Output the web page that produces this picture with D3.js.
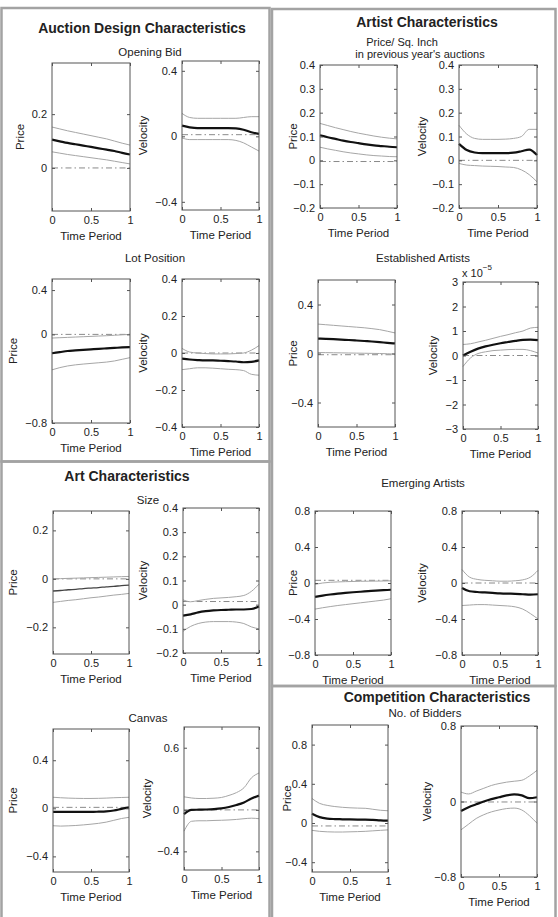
<!DOCTYPE html>
<html>
<head>
<meta charset="utf-8">
<script src="https://cdn.jsdelivr.net/npm/d3@7"></script>
<style>
  body { margin: 0; background: #fff; }
  svg { display: block; }
  text { font-family: "Liberation Sans", Arial, Helvetica, sans-serif; fill: #222; }
</style>
</head>
<body>
<svg id="chart" width="558" height="917"></svg>
<script>
// time grid shared by every curve
const periods = [0, 0.1, 0.2, 0.3, 0.4, 0.5, 0.6, 0.7, 0.8, 0.9, 1];
const timeTicks = [0, 0.5, 1];

// Auction design: opening bid
const bidPriceMean  = [0.105, 0.099, 0.093, 0.088, 0.083, 0.078, 0.073, 0.068, 0.063, 0.056, 0.05];
const bidPriceUpper = [0.152, 0.145, 0.138, 0.132, 0.126, 0.12, 0.114, 0.108, 0.1, 0.092, 0.085];
const bidPriceLower = [0.06, 0.055, 0.05, 0.046, 0.042, 0.038, 0.034, 0.03, 0.025, 0.02, 0.015];
const bidVelMean  = [0.065, 0.055, 0.05, 0.05, 0.05, 0.05, 0.05, 0.048, 0.04, 0.025, 0.015];
const bidVelUpper = [0.14, 0.115, 0.11, 0.11, 0.11, 0.11, 0.11, 0.11, 0.115, 0.12, 0.12];
const bidVelLower = [-0.01, -0.02, -0.02, -0.02, -0.02, -0.02, -0.02, -0.025, -0.04, -0.065, -0.09];

// Auction design: lot position
const lotPriceMean  = [-0.17, -0.16, -0.15, -0.145, -0.14, -0.135, -0.13, -0.126, -0.122, -0.118, -0.115];
const lotPriceUpper = [-0.033, -0.03, -0.027, -0.024, -0.021, -0.018, -0.015, -0.012, -0.008, -0.004, 0];
const lotPriceLower = [-0.32, -0.3, -0.285, -0.275, -0.268, -0.262, -0.256, -0.25, -0.24, -0.225, -0.21];
const lotVelMean  = [-0.03, -0.035, -0.038, -0.04, -0.04, -0.042, -0.044, -0.046, -0.05, -0.048, -0.04];
const lotVelUpper = [0.025, 0.005, 0, -0.003, -0.005, -0.005, -0.005, -0.003, 0, 0.015, 0.04];
const lotVelLower = [-0.09, -0.085, -0.08, -0.08, -0.082, -0.085, -0.088, -0.09, -0.095, -0.115, -0.12];

// Art: size
const sizePriceMean  = [-0.05, -0.048, -0.045, -0.043, -0.04, -0.038, -0.036, -0.033, -0.031, -0.028, -0.026];
const sizePriceUpper = [0, 0.001, 0.002, 0.003, 0.004, 0.005, 0.006, 0.007, 0.008, 0.009, 0.01];
const sizePriceLower = [-0.097, -0.093, -0.089, -0.086, -0.082, -0.078, -0.075, -0.071, -0.067, -0.064, -0.06];
const sizeVelMean  = [-0.045, -0.04, -0.032, -0.027, -0.024, -0.022, -0.021, -0.02, -0.02, -0.018, -0.008];
const sizeVelUpper = [0.02, 0.012, 0.017, 0.022, 0.026, 0.028, 0.03, 0.033, 0.038, 0.055, 0.085];
const sizeVelLower = [-0.11, -0.09, -0.078, -0.072, -0.07, -0.07, -0.07, -0.072, -0.078, -0.092, -0.1];

// Art: canvas
const canvasPriceMean  = [-0.03, -0.03, -0.03, -0.03, -0.03, -0.03, -0.028, -0.025, -0.018, -0.005, 0.008];
const canvasPriceUpper = [0.092, 0.088, 0.085, 0.083, 0.082, 0.082, 0.083, 0.085, 0.088, 0.09, 0.092];
const canvasPriceLower = [-0.145, -0.148, -0.146, -0.143, -0.138, -0.132, -0.125, -0.115, -0.1, -0.085, -0.075];
const canvasVelMean  = [-0.04, 0, 0.002, 0.004, 0.008, 0.015, 0.028, 0.047, 0.072, 0.11, 0.138];
const canvasVelUpper = [0.126, 0.115, 0.11, 0.11, 0.113, 0.12, 0.14, 0.167, 0.214, 0.31, 0.356];
const canvasVelLower = [-0.205, -0.11, -0.105, -0.105, -0.102, -0.1, -0.097, -0.092, -0.085, -0.08, -0.085];

// Artist: price / sq. inch in previous year's auctions
const sqInchPriceMean  = [0.105, 0.097, 0.09, 0.083, 0.077, 0.072, 0.067, 0.063, 0.06, 0.057, 0.055];
const sqInchPriceUpper = [0.155, 0.146, 0.137, 0.129, 0.121, 0.114, 0.108, 0.102, 0.097, 0.093, 0.09];
const sqInchPriceLower = [0.055, 0.048, 0.042, 0.036, 0.031, 0.027, 0.023, 0.02, 0.018, 0.016, 0.015];
const sqInchVelMean  = [0.069, 0.043, 0.033, 0.03, 0.03, 0.03, 0.03, 0.032, 0.038, 0.045, 0.022];
const sqInchVelUpper = [0.147, 0.11, 0.092, 0.088, 0.088, 0.088, 0.089, 0.092, 0.1, 0.13, 0.13];
const sqInchVelLower = [-0.013, -0.02, -0.022, -0.024, -0.025, -0.026, -0.028, -0.03, -0.04, -0.06, -0.09];

// Artist: established artists (velocity in units of 1e-5)
const establishedPriceMean  = [0.122, 0.12, 0.117, 0.113, 0.11, 0.106, 0.102, 0.098, 0.093, 0.087, 0.082];
const establishedPriceUpper = [0.24, 0.235, 0.23, 0.225, 0.22, 0.215, 0.21, 0.203, 0.195, 0.182, 0.168];
const establishedPriceLower = [0.008, 0.007, 0.006, 0.005, 0.004, 0.003, 0.002, 0.001, 0, -0.002, -0.005];
const establishedVelMean  = [0, 0.15, 0.28, 0.37, 0.44, 0.5, 0.55, 0.6, 0.64, 0.65, 0.63];
const establishedVelUpper = [0.45, 0.48, 0.55, 0.62, 0.7, 0.78, 0.85, 0.93, 1.0, 1.12, 1.15];
const establishedVelLower = [-0.45, -0.1, 0.08, 0.15, 0.2, 0.22, 0.24, 0.25, 0.25, 0.2, 0.1];

// Artist: emerging artists
const emergingPriceMean  = [-0.155, -0.14, -0.128, -0.118, -0.11, -0.103, -0.097, -0.091, -0.085, -0.08, -0.075];
const emergingPriceUpper = [-0.015, 0, 0.008, 0.012, 0.015, 0.017, 0.019, 0.02, 0.021, 0.022, 0.024];
const emergingPriceLower = [-0.29, -0.275, -0.262, -0.25, -0.24, -0.23, -0.22, -0.21, -0.2, -0.19, -0.175];
const emergingVelMean  = [-0.055, -0.092, -0.1, -0.105, -0.11, -0.115, -0.118, -0.12, -0.125, -0.13, -0.125];
const emergingVelUpper = [0.15, 0.065, 0.04, 0.03, 0.025, 0.02, 0.02, 0.025, 0.035, 0.065, 0.14];
const emergingVelLower = [-0.25, -0.245, -0.24, -0.24, -0.245, -0.25, -0.255, -0.265, -0.29, -0.34, -0.4];

// Competition: no. of bidders
const biddersPriceMean  = [0.095, 0.06, 0.045, 0.04, 0.038, 0.036, 0.035, 0.035, 0.032, 0.027, 0.024];
const biddersPriceUpper = [0.25, 0.2, 0.18, 0.168, 0.16, 0.155, 0.152, 0.15, 0.14, 0.13, 0.125];
const biddersPriceLower = [-0.075, -0.085, -0.09, -0.092, -0.092, -0.09, -0.088, -0.085, -0.08, -0.075, -0.07];
const biddersVelMean  = [-0.1, -0.06, -0.03, 0, 0.025, 0.045, 0.065, 0.075, 0.065, 0.035, 0.045];
const biddersVelUpper = [0.1, 0.08, 0.11, 0.14, 0.17, 0.19, 0.205, 0.215, 0.225, 0.27, 0.33];
const biddersVelLower = [-0.3, -0.24, -0.18, -0.14, -0.11, -0.09, -0.075, -0.07, -0.09, -0.15, -0.23];

// dash-dot reference levels, one per panel
const zeroLines = [0, 0.01, 0, 0, 0, 0.013, 0.008, 0, -0.005, 0, -0.01, 0, 0.03, 0, -0.03, -0.005];

// y tick labels
const ticksBidPrice = [0, 0.2];
const ticksPm04 = [-0.4, 0, 0.4];
const ticksLotPrice = [-0.8, 0, 0.4];
const ticksLotVel = [-0.4, -0.2, 0, 0.2, 0.4];
const ticksSizePrice = [-0.2, 0, 0.2];
const ticksTenths = [-0.2, -0.1, 0, 0.1, 0.2, 0.3, 0.4];
const ticksCanvasVel = [-0.4, 0, 0.6];
const ticksExp = [-3, -2, -1, 0, 1, 2, 3];
const ticksPm08 = [-0.8, -0.4, 0, 0.4, 0.8];
const ticksBiddersPrice = [-0.4, 0, 0.4, 0.8];
const ticksBiddersVel = [-0.8, 0, 0.8];

const panels = [
  { box: [52, 130, 63, 211], domain: [-0.16, 0.39], ticks: ticksBidPrice, label: "Price", off: 32, s: [bidPriceMean, bidPriceUpper, bidPriceLower] },
  { box: [182, 259, 61, 210], domain: [-0.45, 0.46], ticks: ticksPm04, label: "Velocity", off: 39, s: [bidVelMean, bidVelUpper, bidVelLower] },
  { box: [52, 130, 279, 423], domain: [-0.8, 0.5], ticks: ticksLotPrice, label: "Price", off: 39, s: [lotPriceMean, lotPriceUpper, lotPriceLower] },
  { box: [182, 259, 279, 427], domain: [-0.4, 0.4], ticks: ticksLotVel, label: "Velocity", off: 39, s: [lotVelMean, lotVelUpper, lotVelLower] },
  { box: [53, 129, 511, 654], domain: [-0.31, 0.28], ticks: ticksSizePrice, label: "Price", off: 40, thin: true, s: [sizePriceMean, sizePriceUpper, sizePriceLower] },
  { box: [183, 259, 508, 653], domain: [-0.2, 0.4], ticks: ticksTenths, label: "Velocity", off: 40, s: [sizeVelMean, sizeVelUpper, sizeVelLower] },
  { box: [53, 129, 729, 872], domain: [-0.53, 0.66], ticks: ticksPm04, label: "Price", off: 40, s: [canvasPriceMean, canvasPriceUpper, canvasPriceLower] },
  { box: [184, 259, 727, 870], domain: [-0.58, 0.8], ticks: ticksCanvasVel, label: "Velocity", off: 37, s: [canvasVelMean, canvasVelUpper, canvasVelLower] },
  { box: [320, 397, 65, 208], domain: [-0.2, 0.4], ticks: ticksTenths, label: "Price", off: 27, s: [sqInchPriceMean, sqInchPriceUpper, sqInchPriceLower] },
  { box: [459, 537, 65, 208], domain: [-0.2, 0.4], ticks: ticksTenths, label: "Velocity", off: 37, s: [sqInchVelMean, sqInchVelUpper, sqInchVelLower] },
  { box: [318, 395, 280, 427], domain: [-0.6, 0.6], ticks: ticksPm04, label: "Price", off: 25, s: [establishedPriceMean, establishedPriceUpper, establishedPriceLower] },
  { box: [463, 538, 282, 429], domain: [-3, 3], ticks: ticksExp, label: "Velocity", off: 30, exp: true, s: [establishedVelMean, establishedVelUpper, establishedVelLower] },
  { box: [315, 391, 511, 655], domain: [-0.8, 0.8], ticks: ticksPm08, label: "Price", off: 22, s: [emergingPriceMean, emergingPriceUpper, emergingPriceLower] },
  { box: [462, 538, 511, 655], domain: [-0.8, 0.8], ticks: ticksPm08, label: "Velocity", off: 40, s: [emergingVelMean, emergingVelUpper, emergingVelLower] },
  { box: [312, 388, 725, 872], domain: [-0.5, 1.0], ticks: ticksBiddersPrice, label: "Price", off: 25, s: [biddersPriceMean, biddersPriceUpper, biddersPriceLower] },
  { box: [461, 537, 726, 877], domain: [-0.8, 0.8], ticks: ticksBiddersVel, label: "Velocity", off: 34, s: [biddersVelMean, biddersVelUpper, biddersVelLower] }
];

const svg = d3.select("#chart");

// section frames
const frames = [[1.5, 8, 269.5, 461.5], [1.5, 461.5, 269.5, 920], [272, 9, 555.5, 686], [272, 686, 555.5, 920]];
frames.forEach(f => {
  svg.append("rect")
    .attr("x", f[0]).attr("y", f[1])
    .attr("width", f[2] - f[0]).attr("height", f[3] - f[1])
    .attr("fill", "none").attr("stroke", "#a3a3a3").attr("stroke-width", 2.5);
});

const titles = [
  ["Auction Design Characteristics", 142, 33],
  ["Art Characteristics", 127, 481],
  ["Artist Characteristics", 427, 27],
  ["Competition Characteristics", 437, 702]
];
titles.forEach(t => {
  svg.append("text").attr("x", t[1]).attr("y", t[2])
    .attr("text-anchor", "middle").attr("font-size", 14).attr("font-weight", "bold")
    .text(t[0]);
});

// [text, x, y, size]
const subtitles = [
  ["Opening Bid", 150, 56, 11.5],
  ["Lot Position", 155, 262, 11.5],
  ["Size", 148, 504, 11.5],
  ["Canvas", 148, 722, 11.5],
  ["Price/ Sq. Inch", 402, 46, 11],
  ["in previous year's auctions", 420, 57.5, 11],
  ["Established Artists", 423, 262, 11.5],
  ["Emerging Artists", 423, 487, 11.5],
  ["No. of Bidders", 425, 717, 11.5]
];
subtitles.forEach(t => {
  svg.append("text").attr("x", t[1]).attr("y", t[2])
    .attr("text-anchor", "middle").attr("font-size", t[3])
    .text(t[0]);
});

const fmt = d3.format("~g");

panels.forEach((p, k) => {
  let [x0, x1, y0, y1] = p.box;
  let x = d3.scaleLinear().domain([0, 1]).range([x0, x1]);
  let y = d3.scaleLinear().domain(p.domain).range([y1, y0]);
  let g = svg.append("g");

  // dash-dot reference
  g.append("line")
    .attr("x1", x0).attr("x2", x1)
    .attr("y1", y(zeroLines[k])).attr("y2", y(zeroLines[k]))
    .attr("stroke", "#8a8a8a").attr("stroke-width", 1)
    .attr("stroke-dasharray", "6,3,1.5,3");

  let line = d3.line()
    .x((d, i) => x(periods[i]))
    .y(d => y(d))
    .curve(d3.curveMonotoneX);

  g.append("path").attr("d", line(p.s[1])).attr("fill", "none").attr("stroke", "#a6a6a6").attr("stroke-width", 1);
  g.append("path").attr("d", line(p.s[2])).attr("fill", "none").attr("stroke", "#a6a6a6").attr("stroke-width", 1);
  g.append("path").attr("d", line(p.s[0])).attr("fill", "none")
    .attr("stroke", p.thin ? "#444" : "#111").attr("stroke-width", p.thin ? 1.3 : 2.2);

  // axes, matlab style: ticks inside on all four sides
  let styleAxis = sel => {
    sel.select(".domain").remove();
    sel.attr("font-size", 11).attr("font-family", null).attr("color", "#555");
    sel.selectAll("text").attr("fill", "#222");
  };

  g.append("g").attr("transform", "translate(0," + y1 + ")")
    .call(d3.axisBottom(x).tickValues(timeTicks).tickSize(-3).tickPadding(5).tickFormat(fmt))
    .call(styleAxis);
  g.append("g").attr("transform", "translate(0," + y0 + ")")
    .call(d3.axisTop(x).tickValues(timeTicks).tickSize(-3).tickFormat(""))
    .call(styleAxis);
  g.append("g").attr("transform", "translate(" + x0 + ",0)")
    .call(d3.axisLeft(y).tickValues(p.ticks).tickSize(-3).tickPadding(5).tickFormat(fmt))
    .call(styleAxis);
  g.append("g").attr("transform", "translate(" + x1 + ",0)")
    .call(d3.axisRight(y).tickValues(p.ticks).tickSize(-3).tickFormat(""))
    .call(styleAxis);

  g.append("rect")
    .attr("x", x0).attr("y", y0).attr("width", x1 - x0).attr("height", y1 - y0)
    .attr("fill", "none").attr("stroke", "#555").attr("stroke-width", 1);

  g.append("text")
    .attr("x", (x0 + x1) / 2).attr("y", y1 + 29)
    .attr("text-anchor", "middle").attr("font-size", 11.5)
    .text("Time Period");

  g.append("text")
    .attr("transform", "translate(" + (x0 - p.off) + "," + ((y0 + y1) / 2) + ") rotate(-90)")
    .attr("dy", "0.35em")
    .attr("text-anchor", "middle").attr("font-size", 11.5)
    .text(p.label);

  if (p.exp) {
    let t = g.append("text").attr("x", x0 - 1).attr("y", y0 - 5).attr("font-size", 11);
    t.append("tspan").text("x 10");
    t.append("tspan").attr("dy", -7).attr("font-size", 8).text("\u22125");
  }
});
</script>
</body>
</html>
